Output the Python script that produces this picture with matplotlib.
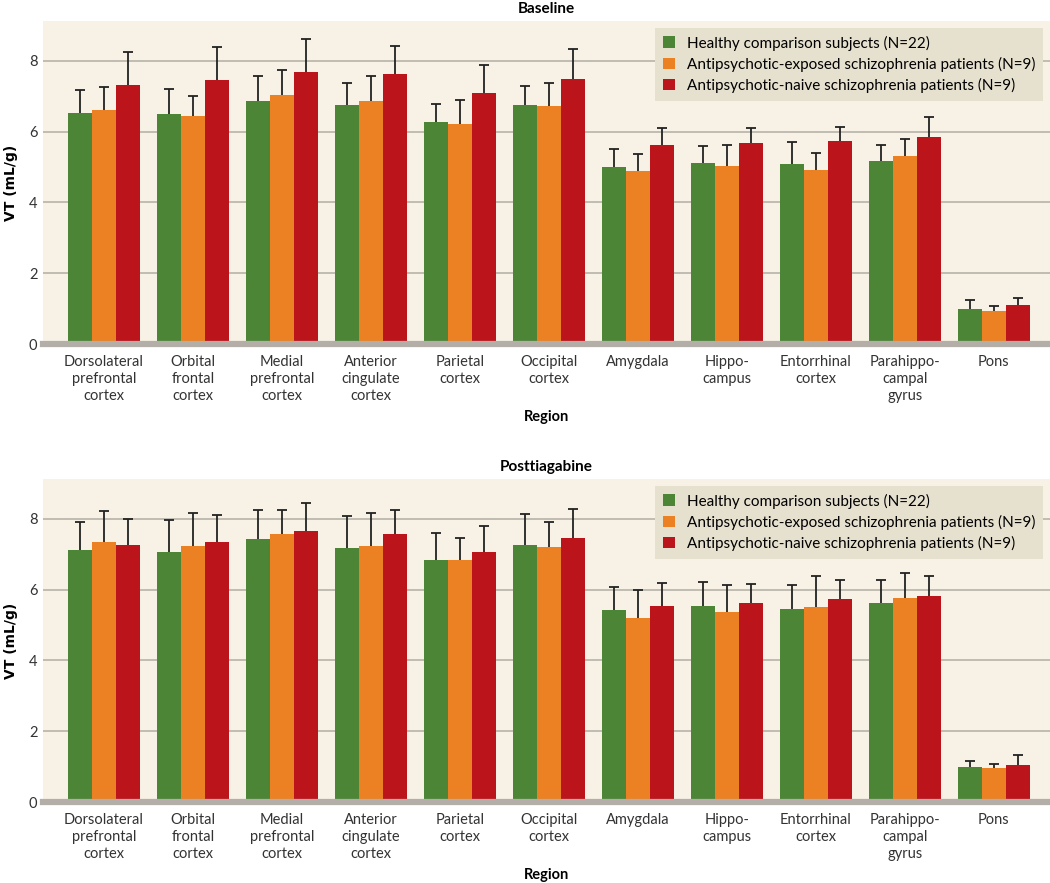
import numpy as np
import matplotlib.pyplot as plt

# ---------------------------- data ---------------------------- #
regions = ['Dorsolateral\nprefrontal\ncortex', 'Orbital\nfrontal\ncortex',
           'Medial\nprefrontal\ncortex', 'Anterior\ncingulate\ncortex',
           'Parietal\ncortex', 'Occipital\ncortex', 'Amygdala',
           'Hippo-\ncampus', 'Entorrhinal\ncortex', 'Parahippo-\ncampal\ngyrus',
           'Pons']
groups = ['Healthy comparison subjects (N=22)',
          'Antipsychotic-exposed schizophrenia patients (N=9)',
          'Antipsychotic-naive schizophrenia patients (N=9)']

base_healthy = [6.52, 6.50, 6.85, 6.75, 6.27, 6.74, 5.00, 5.10, 5.08, 5.17, 1.00]
base_exposed = [6.61, 6.43, 7.02, 6.87, 6.21, 6.71, 4.88, 5.04, 4.90, 5.30, 0.92]
base_naive = [7.31, 7.45, 7.69, 7.62, 7.08, 7.49, 5.61, 5.68, 5.74, 5.84, 1.10]
base_healthy_sd = [0.64, 0.71, 0.71, 0.62, 0.52, 0.55, 0.51, 0.49, 0.61, 0.44, 0.23]
base_exposed_sd = [0.66, 0.58, 0.73, 0.69, 0.68, 0.66, 0.48, 0.59, 0.48, 0.49, 0.16]
base_naive_sd = [0.94, 0.93, 0.92, 0.79, 0.79, 0.84, 0.48, 0.43, 0.38, 0.56, 0.19]

post_healthy = [7.12, 7.05, 7.42, 7.18, 6.82, 7.27, 5.42, 5.53, 5.46, 5.61, 0.98]
post_exposed = [7.34, 7.22, 7.58, 7.24, 6.84, 7.20, 5.20, 5.37, 5.50, 5.75, 0.95]
post_naive = [7.25, 7.34, 7.65, 7.56, 7.05, 7.45, 5.53, 5.61, 5.73, 5.81, 1.05]
post_healthy_sd = [0.80, 0.90, 0.82, 0.90, 0.79, 0.86, 0.65, 0.67, 0.66, 0.65, 0.19]
post_exposed_sd = [0.87, 0.93, 0.66, 0.91, 0.62, 0.71, 0.79, 0.76, 0.89, 0.71, 0.12]
post_naive_sd = [0.74, 0.76, 0.80, 0.69, 0.74, 0.82, 0.65, 0.56, 0.54, 0.56, 0.27]

colors = ['#4d8537', '#eb8123', '#bb141b']
bg = '#f8f2e6'
grid_col = '#bdb8ae'

plt.rcParams['font.family'] = ['Lato', 'DejaVu Sans']

fig = plt.figure(figsize=(10.5, 8.83), dpi=100)
ax_top = fig.add_axes([0.041, 0.6104, 0.959, 0.3658])
ax_bot = fig.add_axes([0.041, 0.0917, 0.959, 0.3658])


def draw_panel(ax, title, means, sds):
  x = np.arange(len(regions))
  w = 0.27
  cap = 0.055
  ax.set_facecolor(bg)
  for k in range(3):
    xs = x + (k - 1) * w
    m = np.array(means[k])
    top = m + np.array(sds[k])
    ax.bar(xs, m, width=w, color=colors[k], label=groups[k], zorder=2)
    # upper whisker only
    ax.vlines(xs, m, top, color='#222222', linewidth=1.3, zorder=3)
    ax.hlines(top, xs - cap, xs + cap, color='#222222', linewidth=1.3, zorder=3)
  ax.set_xlim(-0.685, 10.63)
  ax.set_ylim(0, 9.12)
  ax.set_yticks([0, 2, 4, 6, 8])
  ax.yaxis.grid(True, color=grid_col, linewidth=1.3, zorder=0)
  ax.set_axisbelow(True)
  ax.axhline(0, color='#b3afa8', linewidth=4.5, zorder=4, clip_on=False)
  for s in ax.spines.values():
    s.set_visible(False)
  ax.tick_params(axis='both', length=0, labelsize=10.5, colors='#333333')
  ax.tick_params(axis='y', pad=4)
  ax.tick_params(axis='x', pad=8)
  ax.set_xticks(x)
  ax.set_xticklabels(regions, linespacing=1.25)
  ax.set_xlabel('Region', fontsize=10.5, fontweight='bold', labelpad=5)
  ax.set_ylabel('VT (mL/g)', fontsize=10, fontweight='bold', labelpad=8,
                family=['DejaVu Sans'])
  ax.set_title(title, fontsize=11, fontweight='bold', pad=6)
  leg = ax.legend(loc='upper right', fontsize=11, frameon=True, fancybox=False,
                  handlelength=0.8, handleheight=0.8, handletextpad=0.8,
                  borderpad=0.5, labelspacing=0.4, borderaxespad=0.45)
  leg.get_frame().set_facecolor('#e6e0ce')
  leg.get_frame().set_edgecolor('none')
  leg.get_frame().set_alpha(1)


draw_panel(ax_top, 'Baseline',
           [base_healthy, base_exposed, base_naive],
           [base_healthy_sd, base_exposed_sd, base_naive_sd])
draw_panel(ax_bot, 'Posttiagabine',
           [post_healthy, post_exposed, post_naive],
           [post_healthy_sd, post_exposed_sd, post_naive_sd])

fig.savefig('out.png', dpi=100, facecolor='white')
